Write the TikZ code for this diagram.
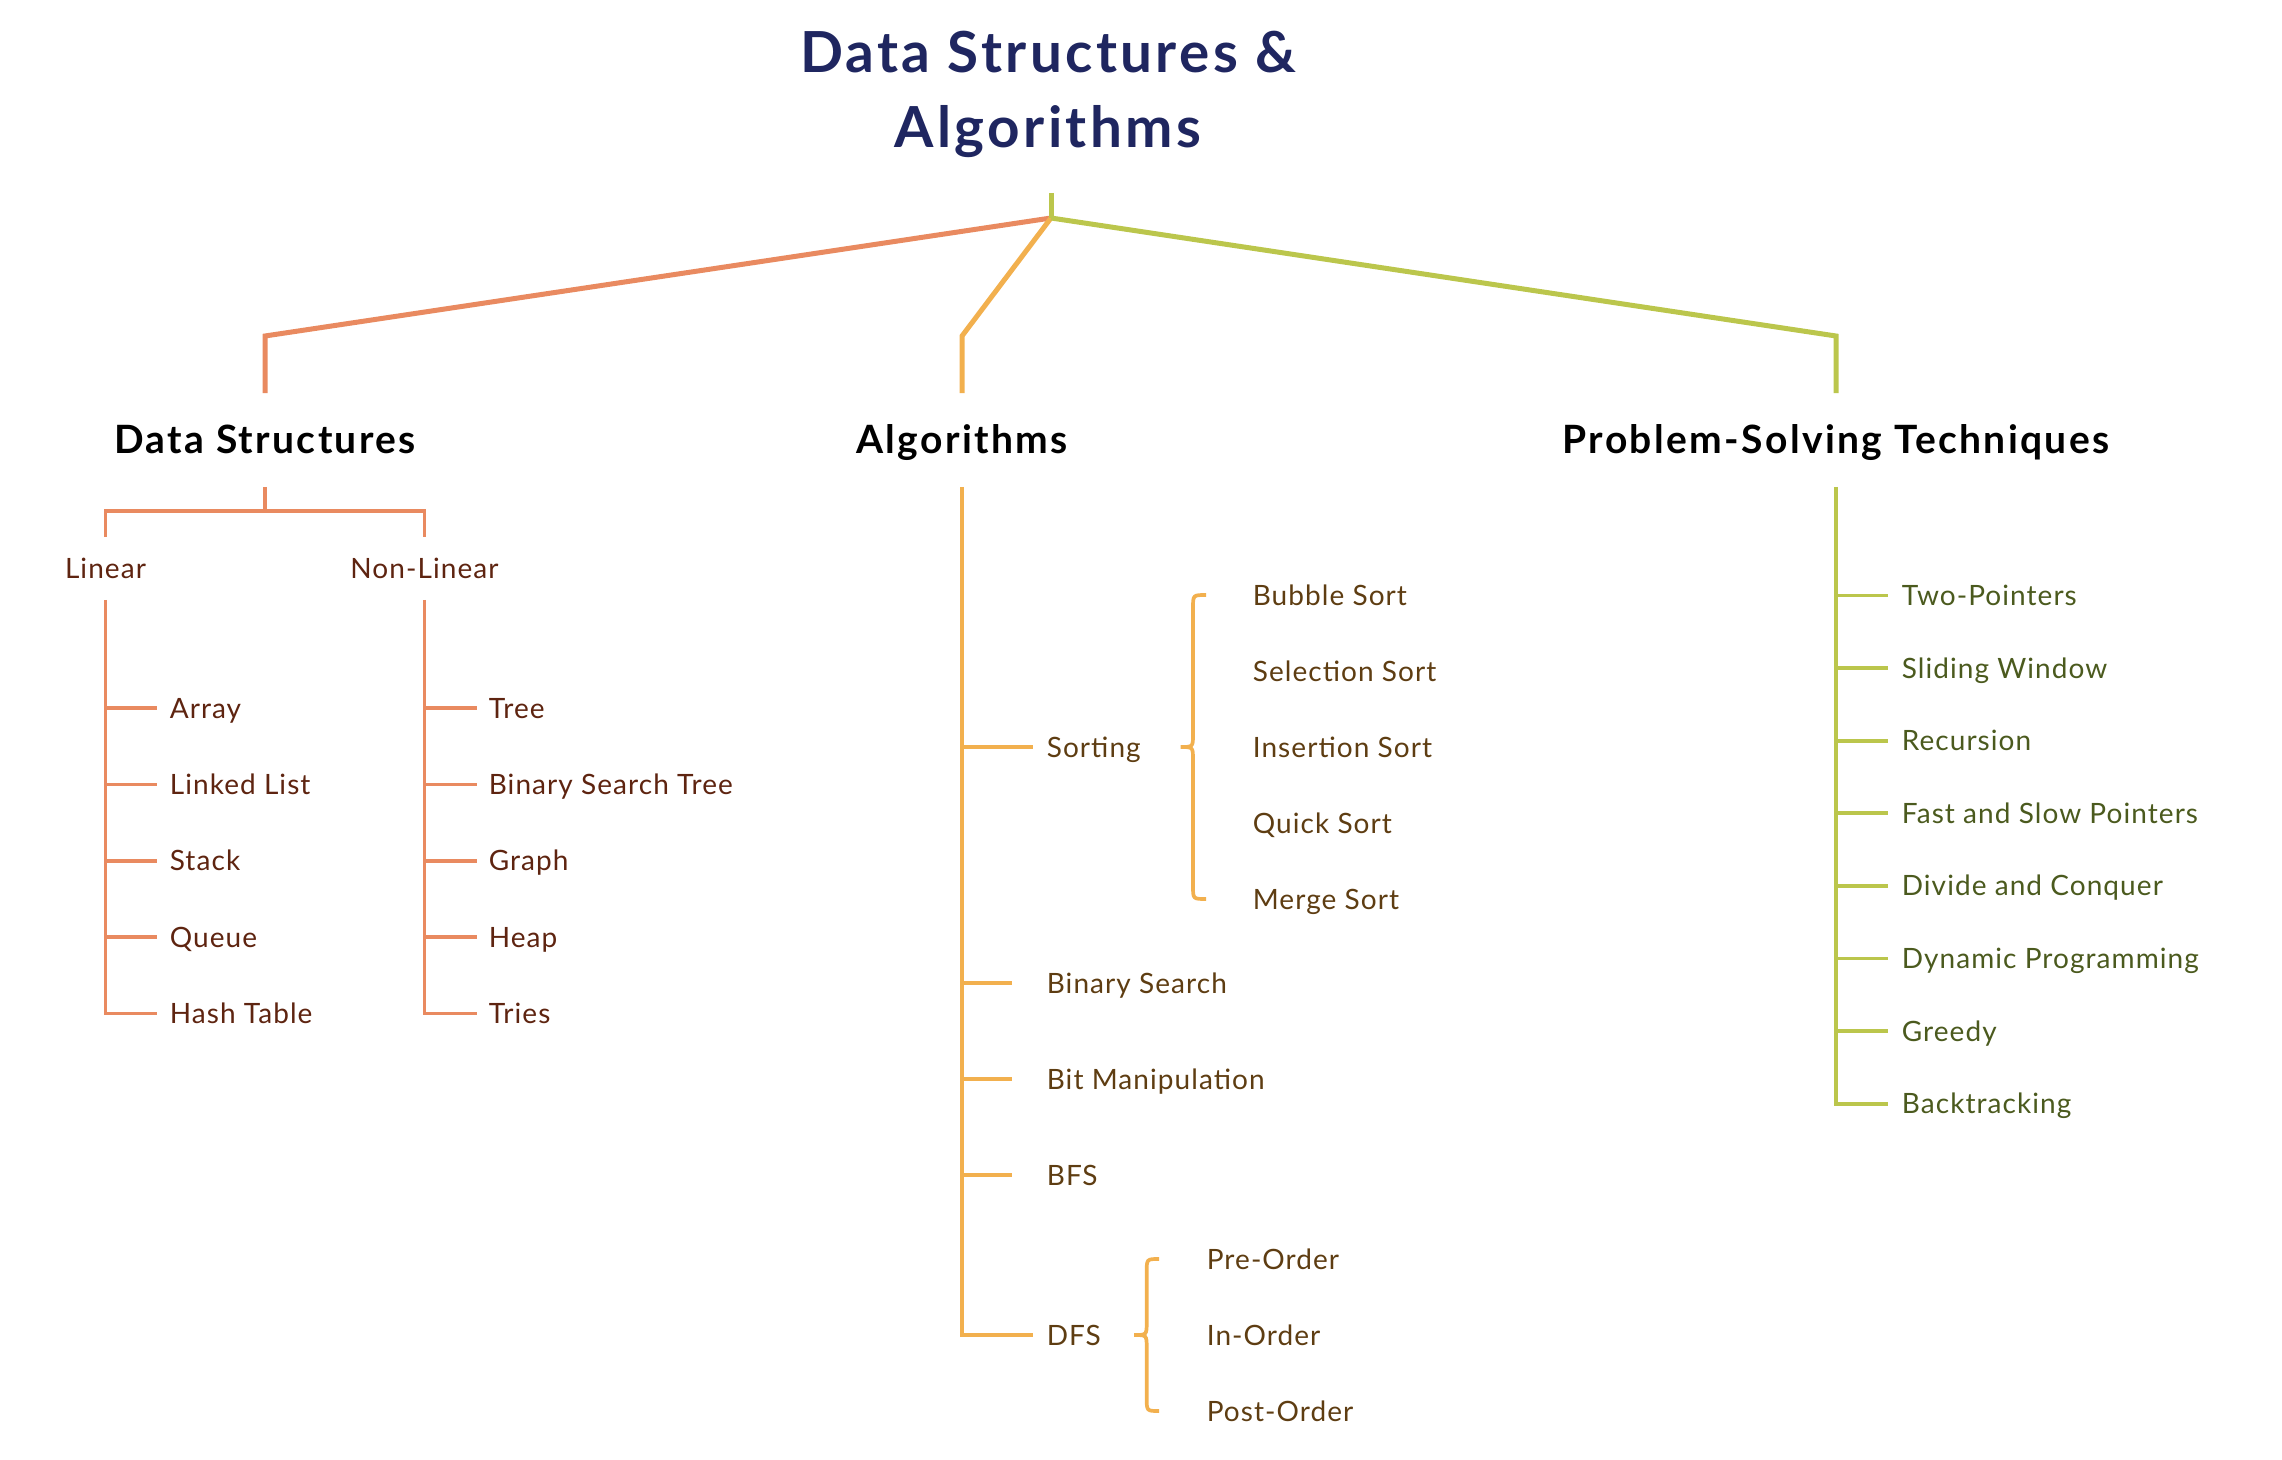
\documentclass[tikz,border=0pt]{standalone}
\usepackage{fontspec}
\setmainfont{Lato}
\newfontfamily\itemfont[LetterSpace=3.8]{Lato}
\newfontfamily\headfont[LetterSpace=6]{Lato}
\newfontfamily\titlefont[LetterSpace=6]{Lato}

\definecolor{dsred}{RGB}{233,138,96}
\definecolor{algorange}{RGB}{242,176,78}
\definecolor{psgreen}{RGB}{187,198,76}
\definecolor{dstext}{RGB}{94,36,16}
\definecolor{algtext}{RGB}{94,61,18}
\definecolor{pstext}{RGB}{75,90,30}
\definecolor{titleblue}{RGB}{31,38,96}

\tikzset{every picture/.style={line width=1.85pt}}
\tikzset{
  mainline/.style={line width=2.5pt},
  itemtext/.style={anchor=west, inner sep=0pt, text height=10pt, text depth=0pt, font=\itemfont\fontsize{14}{17}\selectfont},
  subhead/.style={anchor=center, inner sep=0pt, text height=10pt, text depth=0pt, text=dstext, font=\itemfont\fontsize{14}{17}\selectfont},
  headtext/.style={anchor=center, inner sep=0pt, text height=14pt, text depth=0pt, font=\headfont\bfseries\fontsize{19.5}{23}\selectfont},
  dsitem/.style={itemtext, text=dstext},
  algitem/.style={itemtext, text=algtext},
  psitem/.style={itemtext, text=pstext},
}

\begin{document}
\begin{tikzpicture}[x=0.5pt,y=0.5pt,yscale=-1,xscale=1]
    \useasboundingbox (0,0) rectangle (2282,1460);

    % Title
    \node (title) at (1048,29) [anchor=north, align=center, inner sep=0pt, text=titleblue, font=\titlefont\bfseries\fontsize{28.3}{37.5}\selectfont] {Data Structures \&\\Algorithms};

    % Headings
    \node[headtext] (ds) at (265,440) {Data Structures};
    \node[headtext] (alg) at (962,440) {Algorithms};
    \node[headtext] (ps) at (1836,440) {Problem-Solving Techniques};

    %Straight Lines: root to headings
    \coordinate (stem) at (1051,193);
    \coordinate (hub) at (1051,218);
    \coordinate (dsbend) at (265,336);
    \coordinate (algbend) at (962,336);
    \coordinate (psbend) at (1836,336);
    \draw[mainline, dsred, shorten >=15.5pt] (hub) -- (dsbend) -- (ds.north);
    \draw[mainline, algorange, shorten >=15.5pt] (hub) -- (algbend) -- (alg.north);
    \draw[mainline, psgreen, shorten >=15.5pt] (hub) -- (psbend) -- (ps.north);
    \draw[mainline, psgreen] (stem) -- (hub);

    % Text Node: data structures
    \coordinate (dsfork) at (265,511);
    \node[subhead] (lin) at (105.5,569) {Linear};
    \node[subhead] (nonlin) at (424.5,569) {Non-Linear};
    \draw[dsred, shorten <=15.5pt] (ds.south) -- (dsfork);
    \draw[dsred, shorten <=10pt, shorten >=10pt] (lin.north) |- (dsfork) -| (nonlin.north);

    \node[dsitem] (array) at (168,708) {Array};
    \node[dsitem] (linkedlist) at (168,784.4) {Linked List};
    \node[dsitem] (stack) at (168,860.8) {Stack};
    \node[dsitem] (queue) at (168,937.2) {Queue};
    \node[dsitem] (hashtable) at (168,1013.6) {Hash Table};

    \node[dsitem] (tree) at (487,708) {Tree};
    \node[dsitem] (bst) at (487,784.4) {Binary Search Tree};
    \node[dsitem] (graph) at (487,860.8) {Graph};
    \node[dsitem] (heap) at (487,937.2) {Heap};
    \node[dsitem] (tries) at (487,1013.6) {Tries};

    %Straight Lines: linear
    \draw[dsred, shorten <=9.5pt, shorten >=5.5pt] (lin.south) |- (hashtable.west);
    \draw[dsred, shorten >=5.5pt] (lin.south |- array.west) -- (array.west);
    \draw[dsred, shorten >=5.5pt] (lin.south |- linkedlist.west) -- (linkedlist.west);
    \draw[dsred, shorten >=5.5pt] (lin.south |- stack.west) -- (stack.west);
    \draw[dsred, shorten >=5.5pt] (lin.south |- queue.west) -- (queue.west);

    %Straight Lines: non-linear
    \draw[dsred, shorten <=9.5pt, shorten >=5pt] (nonlin.south) |- (tries.west);
    \draw[dsred, shorten >=5pt] (nonlin.south |- tree.west) -- (tree.west);
    \draw[dsred, shorten >=5pt] (nonlin.south |- bst.west) -- (bst.west);
    \draw[dsred, shorten >=5pt] (nonlin.south |- graph.west) -- (graph.west);
    \draw[dsred, shorten >=5pt] (nonlin.south |- heap.west) -- (heap.west);

    % Text Node: algorithms
    \node[algitem] (sorting) at (1045,747) {Sorting};
    \node[algitem] (binsearch) at (1045,983) {Binary Search};
    \node[algitem] (bitmanip) at (1045,1079) {Bit Manipulation};
    \node[algitem] (bfs) at (1045,1175) {BFS};
    \node[algitem] (dfs) at (1045,1335) {DFS};

    \node[algitem] (bubble) at (1251,595) {Bubble Sort};
    \node[algitem] (selection) at (1251,671) {Selection Sort};
    \node[algitem] (insertion) at (1251,747) {Insertion Sort};
    \node[algitem] (quick) at (1251,823) {Quick Sort};
    \node[algitem] (merge) at (1251,899) {Merge Sort};

    \node[algitem] (preorder) at (1205,1259) {Pre-Order};
    \node[algitem] (inorder) at (1205,1335) {In-Order};
    \node[algitem] (postorder) at (1205,1411) {Post-Order};

    %Straight Lines: algorithms
    \draw[algorange, shorten <=15.5pt, shorten >=6pt] (alg.south) |- (dfs.west);
    \draw[algorange, shorten >=6pt] (alg.south |- sorting.west) -- (sorting.west);
    \draw[algorange, shorten >=16.6pt] (alg.south |- binsearch.west) -- (binsearch.west);
    \draw[algorange, shorten >=16.6pt] (alg.south |- bitmanip.west) -- (bitmanip.west);
    \draw[algorange, shorten >=16.6pt] (alg.south |- bfs.west) -- (bfs.west);

    %Curve Lines: braces
    \draw[algorange] (1206,595) .. controls (1193,595) .. (1193,608) -- (1193,734) .. controls (1193,747) .. (1180.5,747) .. controls (1193,747) .. (1193,760) -- (1193,886) .. controls (1193,899) .. (1206,899);
    \draw[algorange] (1159,1259) .. controls (1146.7,1259) .. (1146.7,1272) -- (1146.7,1322) .. controls (1146.7,1335) .. (1134,1335) .. controls (1146.7,1335) .. (1146.7,1348) -- (1146.7,1398) .. controls (1146.7,1411) .. (1159,1411);

    % Text Node: problem-solving techniques
    \node[psitem] (twoptr) at (1900,595.5) {Two-Pointers};
    \node[psitem] (sliding) at (1900,668.1) {Sliding Window};
    \node[psitem] (recursion) at (1900,740.7) {Recursion};
    \node[psitem] (fastslow) at (1900,813.3) {Fast and Slow Pointers};
    \node[psitem] (divide) at (1900,885.9) {Divide and Conquer};
    \node[psitem] (dynprog) at (1900,958.5) {Dynamic Programming};
    \node[psitem] (greedy) at (1900,1031.1) {Greedy};
    \node[psitem] (backtrack) at (1900,1103.7) {Backtracking};

    %Straight Lines: problem-solving techniques
    \draw[psgreen, shorten <=15.5pt, shorten >=6pt] (ps.south) |- (backtrack.west);
    \draw[psgreen, shorten >=6pt] (ps.south |- twoptr.west) -- (twoptr.west);
    \draw[psgreen, shorten >=6pt] (ps.south |- sliding.west) -- (sliding.west);
    \draw[psgreen, shorten >=6pt] (ps.south |- recursion.west) -- (recursion.west);
    \draw[psgreen, shorten >=6pt] (ps.south |- fastslow.west) -- (fastslow.west);
    \draw[psgreen, shorten >=6pt] (ps.south |- divide.west) -- (divide.west);
    \draw[psgreen, shorten >=6pt] (ps.south |- dynprog.west) -- (dynprog.west);
    \draw[psgreen, shorten >=6pt] (ps.south |- greedy.west) -- (greedy.west);

\end{tikzpicture}
\end{document}
